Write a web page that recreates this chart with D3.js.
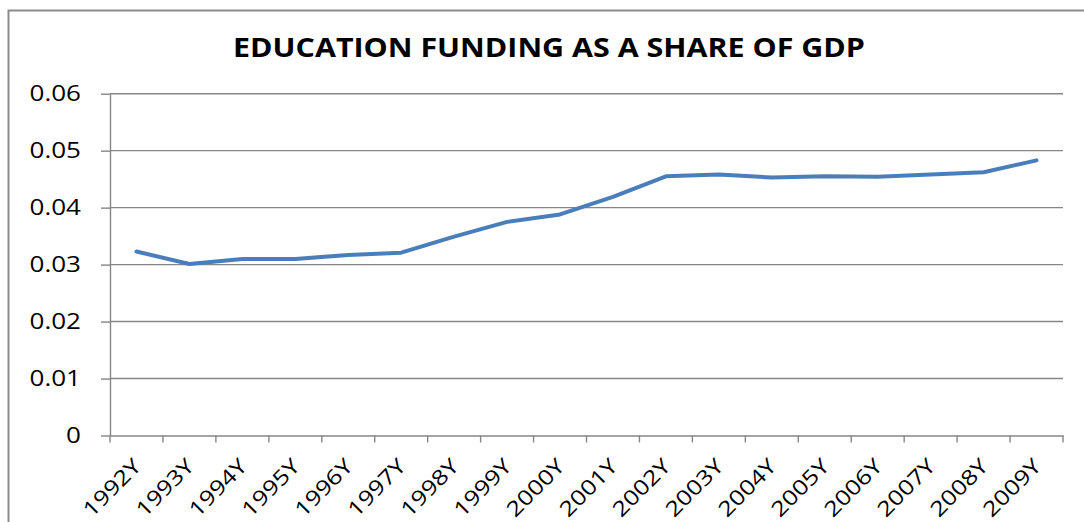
<!DOCTYPE html>
<html>
<head>
<meta charset="utf-8">
<script src="https://cdn.jsdelivr.net/npm/d3@7"></script>
<style>
  html, body { margin: 0; padding: 0; background: #fff; }
  svg { display: block; }
  text { font-family: "Open Sans", "Noto Sans", sans-serif; fill: #000; }
</style>
</head>
<body>
<svg id="chart" width="1084" height="522"></svg>
<script>
const title = "EDUCATION FUNDING AS A SHARE OF GDP";
const categories = ["1992Y","1993Y","1994Y","1995Y","1996Y","1997Y","1998Y","1999Y","2000Y",
                    "2001Y","2002Y","2003Y","2004Y","2005Y","2006Y","2007Y","2008Y","2009Y"];
const values = [0.0323, 0.0301, 0.0310, 0.0310, 0.0317, 0.0321, 0.0349, 0.0375, 0.0388,
                0.0419, 0.0455, 0.0458, 0.0453, 0.0455, 0.0454, 0.0458, 0.0462, 0.0483];
const yTicks = [0, 0.01, 0.02, 0.03, 0.04, 0.05, 0.06];
const yTickLabels = ["0", "0.01", "0.02", "0.03", "0.04", "0.05", "0.06"];

const svg = d3.select("#chart");
const plot = { left: 110, right: 1063, top: 93.7, bottom: 435.5 };
const gridColor = "#868686";
const lineColor = "#4A7EBB";

// outer chart border (extends past the right and bottom edges)
svg.append("rect")
  .attr("x", 8.5).attr("y", 10.5)
  .attr("width", 1200).attr("height", 600)
  .attr("fill", "#fff").attr("stroke", "#8c8c8c").attr("stroke-width", 2);

const x = d3.scaleBand().domain(categories).range([plot.left, plot.right]).padding(0);
const y = d3.scaleLinear().domain([0, 0.06]).range([plot.bottom, plot.top]);

// gridlines
svg.append("g").selectAll("line")
  .data(yTicks.filter(d => d > 0))
  .join("line")
  .attr("x1", plot.left).attr("x2", plot.right)
  .attr("y1", d => y(d)).attr("y2", d => y(d))
  .attr("stroke", gridColor).attr("stroke-width", 1.4);

// y axis
const yAxis = svg.append("g")
  .attr("transform", `translate(${plot.left},0)`)
  .call(d3.axisLeft(y).tickValues(yTicks).tickSize(9).tickSizeOuter(0)
        .tickFormat((d, i) => yTickLabels[i]));
yAxis.select(".domain").attr("stroke", gridColor).attr("stroke-width", 1.4);
yAxis.selectAll(".tick line").attr("stroke", gridColor).attr("stroke-width", 1.4);
yAxis.selectAll(".tick text")
  .attr("x", 0)
  .attr("transform", "translate(-29,0) scale(1.24,1)")
  .style("font-size", "21px")
  .attr("fill", "#000");

// x axis line + boundary ticks
const xAxis = svg.append("g")
  .attr("transform", `translate(0,${plot.bottom})`)
  .call(d3.axisBottom(x).tickSize(0).tickSizeOuter(0));
xAxis.select(".domain").attr("stroke", gridColor).attr("stroke-width", 1.4);
xAxis.selectAll(".tick line").remove();
const boundaries = categories.map(c => x(c)).concat([x.range()[1]]);
xAxis.selectAll("line.bt")
  .data(boundaries)
  .join("line")
  .attr("class", "bt")
  .attr("x1", d => d).attr("x2", d => d)
  .attr("y1", 0).attr("y2", 7)
  .attr("stroke", gridColor).attr("stroke-width", 1.4);
xAxis.selectAll(".tick text")
  .attr("y", 0).attr("dy", 0)
  .attr("text-anchor", "end")
  .attr("transform", "translate(6,32) rotate(-45) scale(1.2,1)")
  .style("font-size", "21px")
  .attr("fill", "#000");

// data line
const line = d3.line()
  .x((d, i) => x(categories[i]) + x.bandwidth() / 2)
  .y(d => y(d));
svg.append("path")
  .datum(values)
  .attr("d", line)
  .attr("fill", "none")
  .attr("stroke", lineColor)
  .attr("stroke-width", 4)
  .attr("stroke-linejoin", "round")
  .attr("stroke-linecap", "round");

// title
svg.append("text")
  .attr("text-anchor", "middle")
  .attr("transform", "translate(549,57) scale(1.17,1)")
  .style("font-size", "26px")
  .style("font-weight", "bold")
  .text(title);
</script>
</body>
</html>
